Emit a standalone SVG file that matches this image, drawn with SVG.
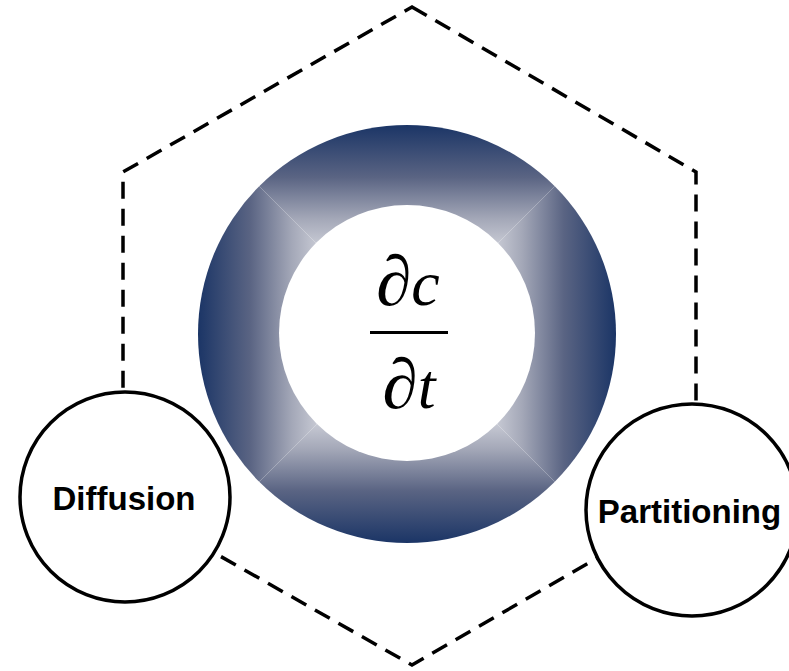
<svg xmlns="http://www.w3.org/2000/svg" width="789" height="671" viewBox="0 0 789 671">
<style>
.hex{fill:none;stroke:#000;stroke-width:3.5;stroke-dasharray:17 10}
.node{fill:#fff;stroke:#000;stroke-width:3.5}
.lbl{font-family:"Liberation Sans",Arial,sans-serif;font-weight:bold;font-size:33px;fill:#000;text-anchor:middle}
.math{font-family:"Liberation Serif","Times New Roman",serif;font-size:64px;fill:#000;text-anchor:middle}
.pd{font-size:71px}
</style>
<defs>
<linearGradient id="gT" gradientUnits="userSpaceOnUse" x1="407" y1="125" x2="407" y2="334">
<stop offset="0" stop-color="#1b3566"/><stop offset="0.25" stop-color="#5a6483"/><stop offset="0.45" stop-color="#a4a8b8"/><stop offset="0.6" stop-color="#cfd1da"/><stop offset="1" stop-color="#f4f4f7"/>
</linearGradient>
<linearGradient id="gB" href="#gT" gradientUnits="userSpaceOnUse" x1="407" y1="543" x2="407" y2="334"/>
<linearGradient id="gL" href="#gT" gradientUnits="userSpaceOnUse" x1="198" y1="334" x2="407" y2="334"/>
<linearGradient id="gR" href="#gT" gradientUnits="userSpaceOnUse" x1="616" y1="334" x2="407" y2="334"/>
<clipPath id="outer"><circle cx="407" cy="334" r="209"/></clipPath>
</defs>
<g id="connectors">
<polygon class="hex" points="412,7 696,172 696,501 412,665 123,501 123,172"/>
</g>
<g id="center">
<g clip-path="url(#outer)">
<polygon points="198,125 616,125 407,334" fill="url(#gT)"/>
<polygon points="198,543 616,543 407,334" fill="url(#gB)"/>
<polygon points="198,125 198,543 407,334" fill="url(#gL)"/>
<polygon points="616,125 616,543 407,334" fill="url(#gR)"/>
</g>
<circle cx="407" cy="333" r="128" fill="#fff"/>
<text class="math" x="408" y="305"><tspan class="pd">∂</tspan><tspan font-style="italic">c</tspan></text>
<line x1="370" y1="332.5" x2="448" y2="332.5" stroke="#000" stroke-width="3"/>
<text class="math" x="409" y="408"><tspan class="pd">∂</tspan><tspan font-style="italic">t</tspan></text>
</g>
<g id="diffusion">
<circle class="node" cx="125" cy="497" r="105"/>
<text class="lbl" x="124" y="510">Diffusion</text>
</g>
<g id="partitioning">
<circle class="node" cx="692" cy="510" r="106"/>
<text class="lbl" x="689.5" y="523">Partitioning</text>
</g>
</svg>
